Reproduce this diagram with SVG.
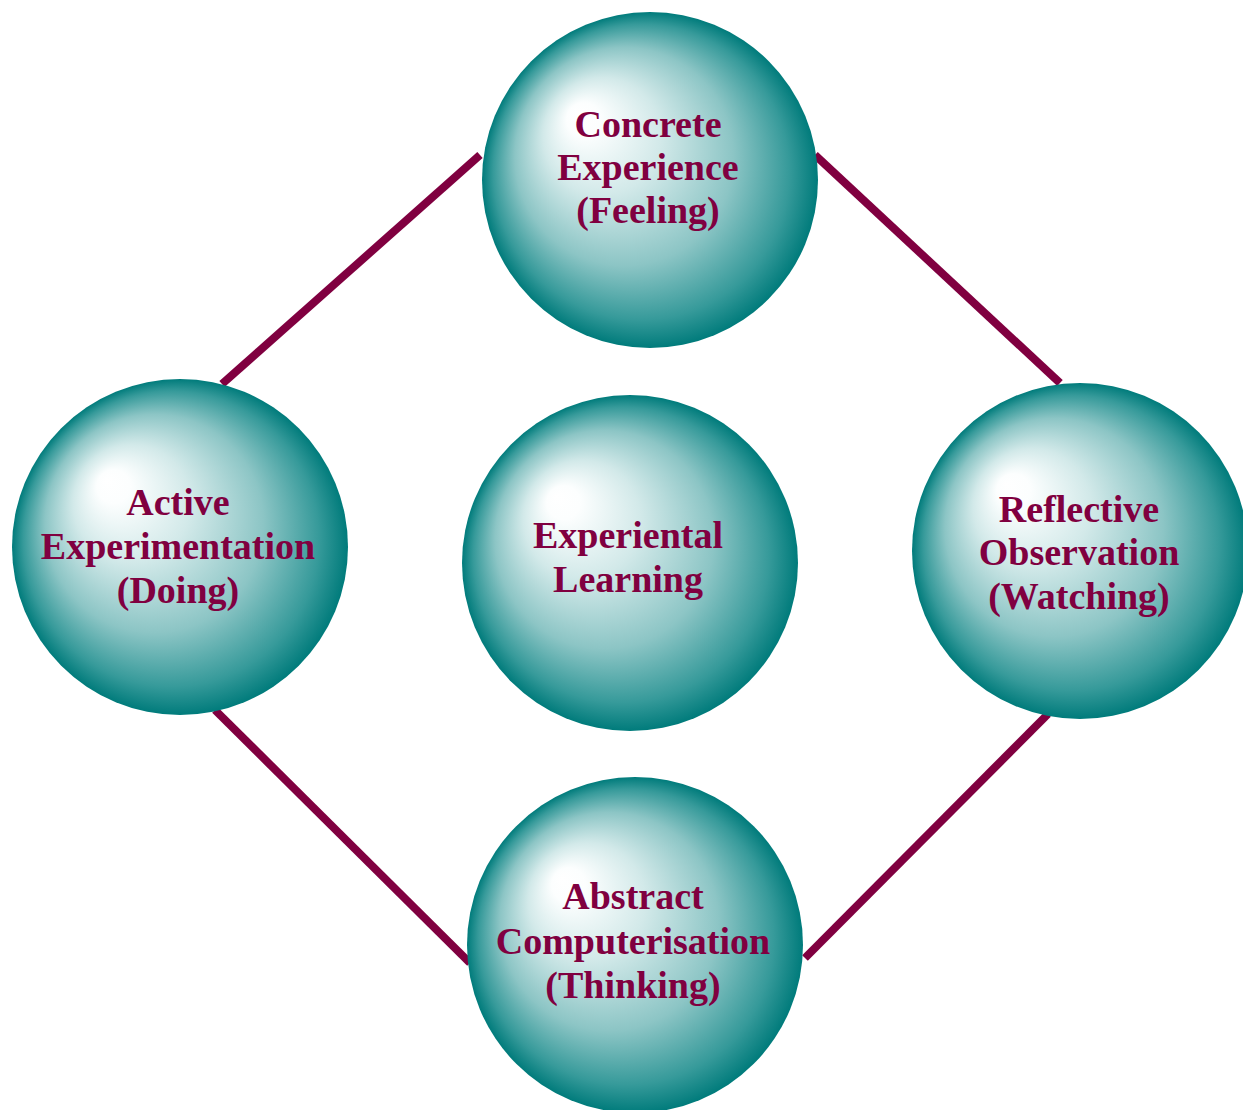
<svg xmlns="http://www.w3.org/2000/svg" width="1243" height="1110" viewBox="0 0 1243 1110">
<style>
.ball{fill:url(#sphere);}
.lbl{font-family:"Liberation Serif","Times New Roman",serif;font-weight:bold;font-size:38px;fill:#800040;text-anchor:middle;}
.conn{stroke:#800040;stroke-width:8;fill:none;}
</style>
<defs>
<radialGradient id="sphere" cx="0.5" cy="0.5" r="0.5" fx="0.28" fy="0.3">
<stop offset="0" stop-color="#ffffff"/>
<stop offset="0.1" stop-color="#fcfefe"/>
<stop offset="0.35" stop-color="#d2e9e9"/>
<stop offset="0.65" stop-color="#8cc5c5"/>
<stop offset="0.88" stop-color="#369a9a"/>
<stop offset="1" stop-color="#007b7b"/>
</radialGradient>
</defs>
<rect width="1243" height="1110" fill="#ffffff"/>
<g id="connectors">
<line class="conn" x1="480" y1="155" x2="222" y2="384"/>
<line class="conn" x1="815" y1="155" x2="1060" y2="383"/>
<line class="conn" x1="215" y1="710" x2="470" y2="963"/>
<line class="conn" x1="1048" y1="714" x2="805" y2="958"/>
</g>
<g id="concrete-experience">
<circle class="ball" cx="650" cy="180" r="168"/>
<text class="lbl" x="648" y="137">Concrete</text>
<text class="lbl" x="648" y="180">Experience</text>
<text class="lbl" x="648" y="223">(Feeling)</text>
</g>
<g id="active-experimentation">
<circle class="ball" cx="180" cy="547" r="168"/>
<text class="lbl" x="178" y="515">Active</text>
<text class="lbl" x="178" y="559">Experimentation</text>
<text class="lbl" x="178" y="603">(Doing)</text>
</g>
<g id="experiental-learning">
<circle class="ball" cx="630" cy="563" r="168"/>
<text class="lbl" x="628" y="548">Experiental</text>
<text class="lbl" x="628" y="592">Learning</text>
</g>
<g id="reflective-observation">
<circle class="ball" cx="1080" cy="551" r="168"/>
<text class="lbl" x="1079" y="522">Reflective</text>
<text class="lbl" x="1079" y="565">Observation</text>
<text class="lbl" x="1079" y="609">(Watching)</text>
</g>
<g id="abstract-computerisation">
<circle class="ball" cx="635" cy="945" r="168"/>
<text class="lbl" x="633" y="909">Abstract</text>
<text class="lbl" x="633" y="954">Computerisation</text>
<text class="lbl" x="633" y="998">(Thinking)</text>
</g>
</svg>
